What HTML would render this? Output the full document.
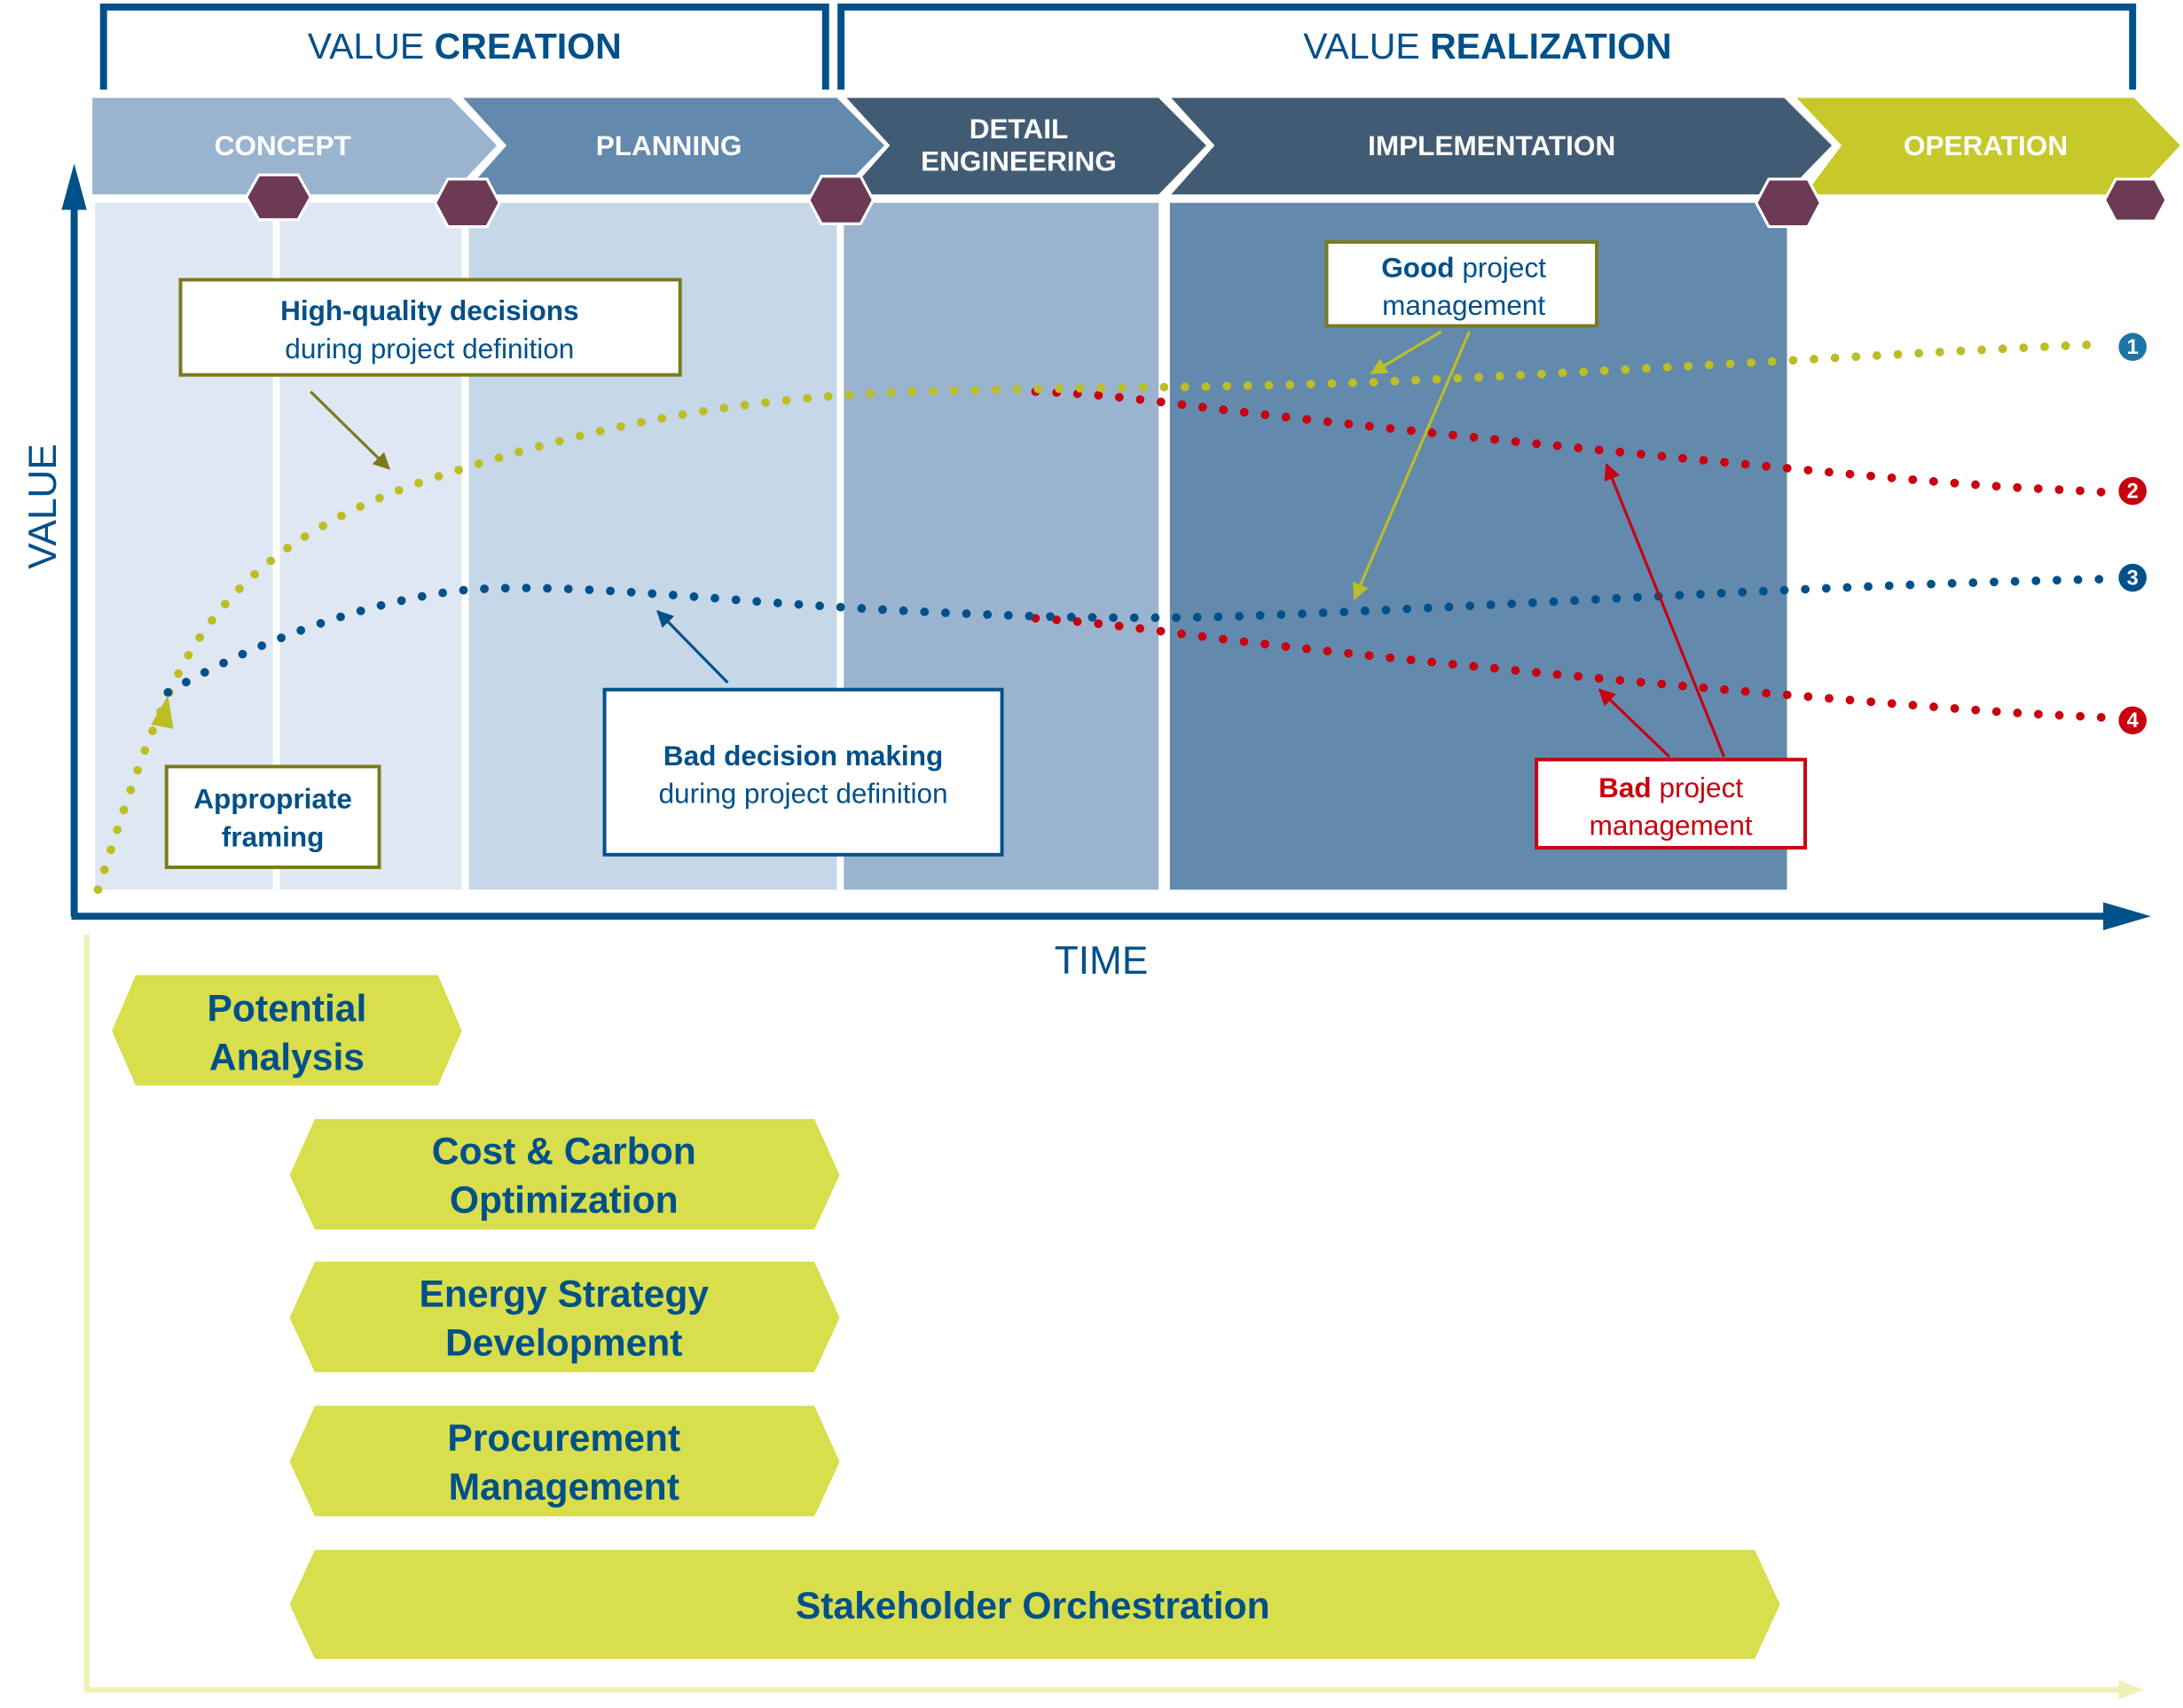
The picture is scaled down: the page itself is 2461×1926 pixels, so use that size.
<!DOCTYPE html>
<html><head><meta charset="utf-8"><style>
html,body{margin:0;padding:0;background:#fff;}
svg{display:block;}
text{font-family:"Liberation Sans",sans-serif;}
</style></head><body>
<svg width="2461" height="1926" viewBox="0 0 1560 1221" preserveAspectRatio="none" xmlns="http://www.w3.org/2000/svg">
<defs>
<marker id="ao" viewBox="0 0 10 10" refX="9" refY="5" markerWidth="6" markerHeight="6" orient="auto"><path d="M0,0L10,5L0,10z" fill="#7a7a1e"/></marker>
<marker id="ay" viewBox="0 0 10 10" refX="9" refY="5" markerWidth="6" markerHeight="6" orient="auto"><path d="M0,0L10,5L0,10z" fill="#bcbe26"/></marker>
<marker id="ab" viewBox="0 0 10 10" refX="9" refY="5" markerWidth="6" markerHeight="6" orient="auto"><path d="M0,0L10,5L0,10z" fill="#00508a"/></marker>
<marker id="ar" viewBox="0 0 10 10" refX="9" refY="5" markerWidth="6" markerHeight="6" orient="auto"><path d="M0,0L10,5L0,10z" fill="#c8000f"/></marker>
</defs>
<path d="M74,64V5H590V64" fill="none" stroke="#00508a" stroke-width="5"/>
<path d="M601,64V5H1524V64" fill="none" stroke="#00508a" stroke-width="5"/>
<text x="332" y="42" text-anchor="middle" font-size="26" fill="#00508a">VALUE <tspan font-weight="bold">CREATION</tspan></text>
<text x="1063" y="42" text-anchor="middle" font-size="26" fill="#00508a">VALUE <tspan font-weight="bold">REALIZATION</tspan></text>
<rect x="68" y="145" width="127" height="491" fill="#dfe8f2"/>
<rect x="200" y="145" width="130" height="491" fill="#dfe8f2"/>
<rect x="335" y="145" width="263" height="491" fill="#c6d7e7"/>
<rect x="603" y="145" width="225" height="491" fill="#9ab4cf"/>
<rect x="836" y="145" width="441" height="491" fill="#6389ad"/>
<polygon points="66,70 322,70 355,104 322,139 66,139" fill="#9ab4cf"/>
<polygon points="331,70 598,70 632,104 598,139 331,139 362,104" fill="#6389ad"/>
<polygon points="605,70 828,70 862,104 828,139 605,139 636,104" fill="#425b75"/>
<polygon points="837,70 1275,70 1309,104 1275,139 837,139 868,104" fill="#425b75"/>
<polygon points="1284,70 1525,70 1558,104 1525,139 1290,139 1316,104" fill="#c6c929"/>
<g fill="#fff" font-weight="bold" font-size="20" text-anchor="middle">
<text x="202" y="111">CONCEPT</text>
<text x="478" y="111">PLANNING</text>
<text x="728" y="99">DETAIL</text>
<text x="728" y="122">ENGINEERING</text>
<text x="1066" y="111">IMPLEMENTATION</text>
<text x="1419" y="111">OPERATION</text>
</g>
<g fill="#6d3a55" stroke="#fff" stroke-width="2">
<polygon points="185,125 213,125 222,141 213,157 185,157 176,141"/>
<polygon points="320,128 348,128 357,145 348,162 320,162 311,145"/>
<polygon points="587,126 615,126 624,143 615,160 587,160 578,143"/>
<polygon points="1264,128 1292,128 1301,145 1292,162 1264,162 1255,145"/>
<polygon points="1512,128 1540,128 1548,143 1540,158 1512,158 1504,143"/>
</g>
<path d="M53,655V140" stroke="#00508a" stroke-width="5"/>
<polygon points="53,117 44,150 62,150" fill="#00508a"/>
<path d="M51,655H1510" stroke="#00508a" stroke-width="5"/>
<polygon points="1537,655 1503,645 1503,665" fill="#00508a"/>
<text x="40" y="362" font-size="28" fill="#00508a" text-anchor="middle" transform="rotate(-90 40 362)">VALUE</text>
<text x="787" y="696" font-size="28" fill="#00508a" text-anchor="middle">TIME</text>
<path d="M62,668V1208H1515" fill="none" stroke="#f0f0b8" stroke-width="4"/>
<polygon points="1532,1208 1514,1201 1514,1215" fill="#f0f0b8"/>
<g fill="none" stroke-width="6.2" stroke-linecap="round" stroke-dasharray="0 15">
<path d="M740,280 C800,282 830,288 900,296 S1100,318 1280,335 S1450,348 1505,352" stroke="#c8000f"/>
<path d="M740,442 C800,446 830,452 900,460 S1100,482 1280,497 S1450,510 1505,513" stroke="#c8000f"/>
<path d="M70,636 C85,590 100,540 120,497 C150,430 200,380 300,345 C420,305 520,285 650,280 C800,276 900,278 1050,270 C1250,260 1400,250 1505,246" stroke="#bcbe26"/>
<path d="M120,495 C180,460 260,430 330,422 C400,416 500,428 600,434 C700,440 800,444 900,440 C1100,432 1300,418 1505,414" stroke="#00508a"/>
</g>
<g font-weight="bold" font-size="15" text-anchor="middle" fill="#fff">
<circle cx="1524" cy="248" r="10" fill="#1d74a8"/><text x="1524" y="253">1</text>
<circle cx="1524" cy="351" r="10" fill="#c8000f"/><text x="1524" y="356">2</text>
<circle cx="1524" cy="413" r="10" fill="#00508a"/><text x="1524" y="418">3</text>
<circle cx="1524" cy="515" r="10" fill="#c8000f"/><text x="1524" y="520">4</text>
</g>
<rect x="129" y="200" width="357" height="68" fill="#fff" stroke="#7a7a1e" stroke-width="2.5"/>
<text x="307" y="229" text-anchor="middle" font-size="20" fill="#00508a" font-weight="bold">High-quality decisions</text>
<text x="307" y="256" text-anchor="middle" font-size="20" fill="#00508a">during project definition</text>
<path d="M222,280L278,335" stroke="#7a7a1e" stroke-width="2" marker-end="url(#ao)"/>
<rect x="119" y="548" width="152" height="72" fill="#fff" stroke="#7a7a1e" stroke-width="2.5"/>
<text x="195" y="578" text-anchor="middle" font-size="20" fill="#00508a" font-weight="bold">Appropriate</text>
<text x="195" y="605" text-anchor="middle" font-size="20" fill="#00508a" font-weight="bold">framing</text>
<polygon points="120,497 108,518 124,521" fill="#bcbe26"/>
<rect x="432" y="493" width="284" height="118" fill="#fff" stroke="#00508a" stroke-width="2.5"/>
<text x="574" y="547" text-anchor="middle" font-size="20" fill="#00508a" font-weight="bold">Bad decision making</text>
<text x="574" y="574" text-anchor="middle" font-size="20" fill="#00508a">during project definition</text>
<path d="M520,488L470,437" stroke="#00508a" stroke-width="2" marker-end="url(#ab)"/>
<rect x="948" y="173" width="193" height="60" fill="#fff" stroke="#7a7a1e" stroke-width="2.5"/>
<text x="1046" y="198" text-anchor="middle" font-size="20" fill="#00508a"><tspan font-weight="bold">Good</tspan> project</text>
<text x="1046" y="225" text-anchor="middle" font-size="20" fill="#00508a">management</text>
<path d="M1030,237L980,267" stroke="#bcbe26" stroke-width="2" marker-end="url(#ay)"/>
<path d="M1050,237L968,428" stroke="#bcbe26" stroke-width="2" marker-end="url(#ay)"/>
<rect x="1098" y="543" width="192" height="63" fill="#fff" stroke="#c8000f" stroke-width="2.5"/>
<text x="1194" y="570" text-anchor="middle" font-size="20" fill="#c8000f"><tspan font-weight="bold">Bad</tspan> project</text>
<text x="1194" y="597" text-anchor="middle" font-size="20" fill="#c8000f">management</text>
<path d="M1193,541L1143,493" stroke="#c8000f" stroke-width="2" marker-end="url(#ar)"/>
<path d="M1232,541L1148,332" stroke="#c8000f" stroke-width="2" marker-end="url(#ar)"/>
<g fill="#d8de4c">
<polygon points="97,697 313,697 330,737 313,776 97,776 80,737"/>
<polygon points="225,800 582,800 600,840 582,879 225,879 207,840"/>
<polygon points="225,902 582,902 600,942 582,981 225,981 207,942"/>
<polygon points="225,1005 582,1005 600,1045 582,1084 225,1084 207,1045"/>
<polygon points="225,1108 1254,1108 1272,1147 1254,1186 225,1186 207,1147"/>
</g>
<g fill="#00508a" font-weight="bold" font-size="27" text-anchor="middle">
<text x="205" y="730">Potential</text><text x="205" y="765">Analysis</text>
<text x="403" y="832">Cost &amp; Carbon</text><text x="403" y="867">Optimization</text>
<text x="403" y="934">Energy Strategy</text><text x="403" y="969">Development</text>
<text x="403" y="1037">Procurement</text><text x="403" y="1072">Management</text>
<text x="738" y="1157">Stakeholder Orchestration</text>
</g>
</svg>
</body></html>
